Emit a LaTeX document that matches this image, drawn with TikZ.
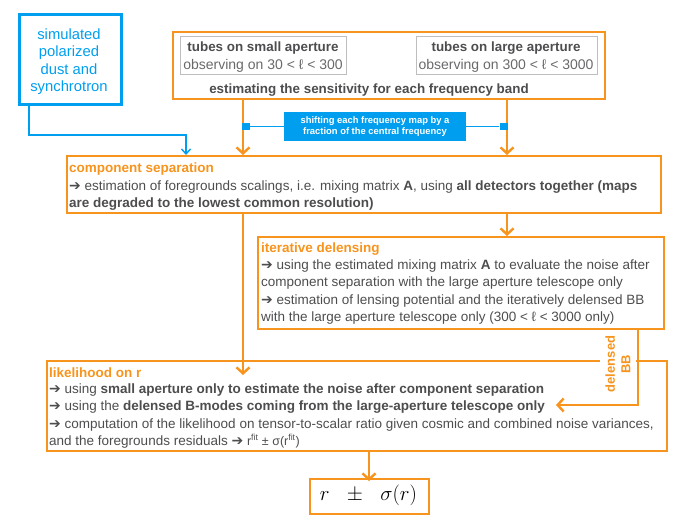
\documentclass[tikz,border=0pt]{standalone}
\usepackage{fontspec}
\setmainfont{Liberation Sans}
\newfontfamily\dvfont{DejaVu Sans}
\usetikzlibrary{arrows.meta}
\definecolor{orng}{RGB}{247,148,29}
\definecolor{blu}{RGB}{0,158,238}
\definecolor{dark}{RGB}{77,77,79}
\definecolor{lgray}{RGB}{190,190,190}
\definecolor{mgray}{RGB}{105,105,108}
\newcommand{\rar}{{\dvfont\fontsize{14}{12}\selectfont ➔}}
\begin{document}
\begin{tikzpicture}[x=1pt,y=-1pt,
  obox/.style={draw=orng,line width=1.6pt,inner sep=0pt,anchor=north west},
  gbox/.style={draw=lgray,line width=1pt,inner sep=0pt,anchor=north west},
  bbox/.style={draw=blu,line width=3pt,inner sep=0pt,anchor=north west},
  txt/.style={inner sep=0pt,anchor=base west,text=dark,font=\fontsize{13.5}{15}\selectfont},
  ttl/.style={inner sep=0pt,anchor=base west,text=orng,font=\fontsize{13.5}{15}\selectfont\bfseries},
  oarrow/.style={draw=orng,line width=2.8pt,-{Straight Barb[length=6pt,width=13pt,line width=2.4pt]}},
  barrow/.style={draw=blu,line width=1.8pt,-{Straight Barb[length=5pt,width=9pt,line width=1.4pt]}},
  bline/.style={draw=blu,line width=1.3pt},
  sq/.style={fill=blu,minimum width=8pt,minimum height=7pt,inner sep=0pt}
]
\useasboundingbox (0,0) rectangle (692,519);

% simulated box
\node[bbox,minimum width=102pt,minimum height=90pt] (sim) at (18,13) {};
\node[inner sep=0pt,text=blu,align=center,font=\fontsize{14.8}{17.5}\selectfont] (simt) at (69,61.5) {simulated\\polarized\\dust and\\synchrotron};

% top box
\node[obox,minimum width=432pt,minimum height=67pt] (top) at (172,31) {};
\node[gbox,minimum width=166pt,minimum height=38pt] (gs) at (180,36) {};
\node[gbox,minimum width=181pt,minimum height=38pt] (gl) at (416,36) {};
\node[txt,anchor=base,font=\fontsize{13.4}{15}\selectfont\bfseries] (gs1) at (263,52) {tubes on small aperture};
\node[txt,anchor=base,text=mgray,font=\fontsize{14}{15}\selectfont] (gs2) at (263,69) {observing on 30 < ℓ < 300};
\node[txt,anchor=base,font=\fontsize{13.4}{15}\selectfont\bfseries] (gl1) at (506,52) {tubes on large aperture};
\node[txt,anchor=base,text=mgray,font=\fontsize{14}{15}\selectfont] (gl2) at (506,69) {observing on 300 < ℓ < 3000};
\node[txt,anchor=base,font=\fontsize{13.4}{15}\selectfont\bfseries] (est) at (369,93) {estimating the sensitivity for each frequency band};

% component separation
\node[obox,minimum width=594pt,minimum height=57pt] (comp) at (66,155) {};
\node[ttl] (ct) at (69,172) {component separation};
\node[txt] (c1) at (69,190) {\rar\ estimation of foregrounds scalings, i.e. mixing matrix \textbf{A}, using \textbf{all detectors together (maps}};
\node[txt] (c2) at (69,207) {\textbf{are degraded to the lowest common resolution)}};

% iterative delensing
\node[obox,minimum width=406pt,minimum height=92pt] (iter) at (257,236) {};
\node[ttl] (it) at (261,252) {iterative delensing};
\node[txt] (i1) at (261,269) {\rar\ using the estimated mixing matrix \textbf{A} to evaluate the noise after};
\node[txt] (i2) at (261,286) {component separation with the large aperture telescope only};
\node[txt] (i3) at (261,304) {\rar\ estimation of lensing potential and the iteratively delensed BB};
\node[txt] (i4) at (261,321) {with the large aperture telescope only (300 < ℓ < 3000 only)};

% likelihood
\node[obox,minimum width=620pt,minimum height=90pt] (lik) at (46,360) {};
\node[ttl] (lt) at (49,377) {likelihood on r};
\node[txt] (l1) at (49,393) {\rar\ using \textbf{small aperture only to estimate the noise after component separation}};
\node[txt] (l2) at (49,410) {\rar\ using the \textbf{delensed B-modes coming from the large-aperture telescope only}};
\node[txt] (l3) at (49,428) {\rar\ computation of the likelihood on tensor-to-scalar ratio given cosmic and combined noise variances,};
\node[txt] (l4) at (49,445) {and the foregrounds residuals \rar\ {\fontsize{12.5}{12}\selectfont r\textsuperscript{fit} ± σ(r\textsuperscript{fit})}};

% result
\node[obox,minimum width=119pt,minimum height=35pt] (res) at (309,478) {};
\node[inner sep=0pt,font=\fontsize{22}{24}\selectfont] (rest) at (368.5,495.5) {$r\mskip11mu\pm\mskip11mu\sigma(r)$};

% delensed BB label
\node[fill=white,inner sep=0pt,minimum width=62pt,minimum height=36pt,rotate=90,align=center,text=orng,font=\fontsize{13}{15.5}\selectfont\bfseries] (dbb) at (618,364) {delensed\\BB};

% coordinates
\coordinate (xa) at (243,0);
\coordinate (xb) at (507,0);
\coordinate (liktip) at (243,375);
\coordinate (dlcorner) at (638,405);
\coordinate (dlend) at (556,405);
\coordinate (bcorner) at (186,135);
\coordinate (xs) at (29,0);
\coordinate (xr) at (369,0);

% orange arrows
\draw[oarrow] (top.south -| xa) -- (comp.north -| xa);
\draw[oarrow] (top.south -| xb) -- (comp.north -| xb);
\draw[oarrow] (comp.south -| xb) -- (iter.north -| xb);
\draw[oarrow] (comp.south -| xa) -- (liktip);
\draw[oarrow] (iter.south -| dlcorner) |- (dlend);
\draw[oarrow] (lik.south -| xr) -- ([yshift=-3pt]res.north -| xr);

% blue connector
\draw[barrow] (sim.south -| xs) |- (bcorner) -- (comp.north -| bcorner);

% shifting label
\node[fill=blu,text=white,inner sep=0pt,minimum width=182pt,minimum height=29pt,align=center,font=\fontsize{9.4}{11}\selectfont\bfseries] (shift) at (375,126.5) {shifting each frequency map by a\\fraction of the central frequency};
\node[sq] (sqL) at (246,126.5) {};
\node[sq] (sqR) at (503.5,126.5) {};
\draw[bline] (sqL) -- (shift.west);
\draw[bline] (shift.east) -- (sqR);
\end{tikzpicture}
\end{document}
